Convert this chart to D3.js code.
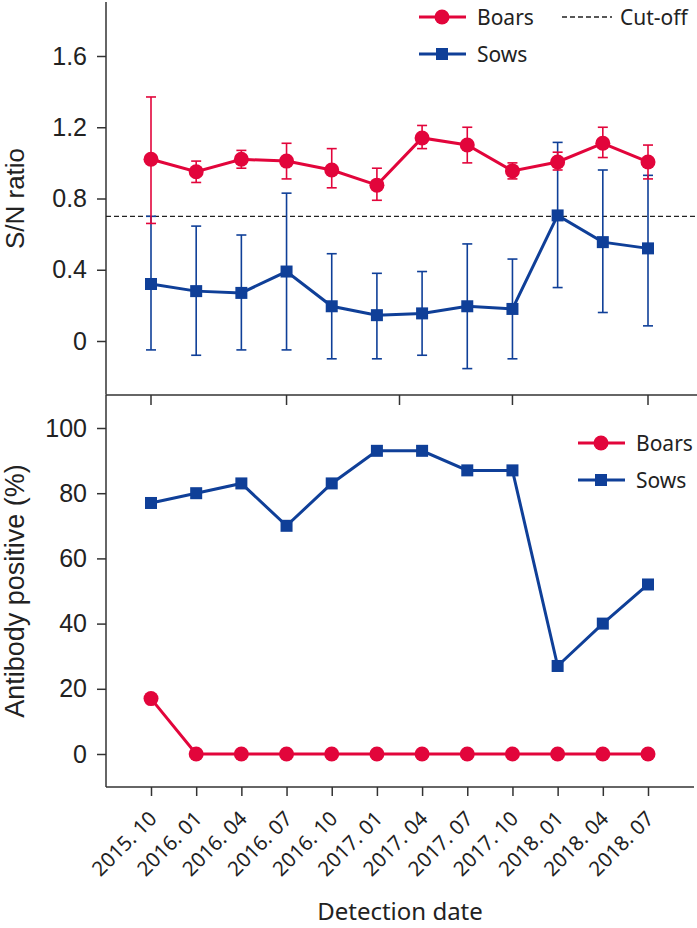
<!DOCTYPE html>
<html><head><meta charset="utf-8">
<script src="https://cdn.jsdelivr.net/npm/d3@7"></script>
<style>body{margin:0;background:#fff}svg{display:block}</style>
</head><body>
<svg id="c" width="697" height="928"></svg>
<script>
const dates = ["2015. 10","2016. 01","2016. 04","2016. 07","2016. 10","2017. 01","2017. 04","2017. 07","2017. 10","2018. 01","2018. 04","2018. 07"];
const snBoars   = [1.02,0.95,1.02,1.01,0.96,0.875,1.14,1.10,0.955,1.005,1.11,1.005];
const snBoarsHi = [1.37,1.01,1.07,1.11,1.08,0.97,1.21,1.20,1.00,1.06,1.20,1.10];
const snBoarsLo = [0.66,0.89,0.97,0.91,0.86,0.79,1.08,1.00,0.91,0.96,1.03,0.91];
const snSows    = [0.32,0.28,0.27,0.39,0.195,0.145,0.155,0.195,0.18,0.705,0.555,0.52];
const snSowsHi  = [0.70,0.645,0.595,0.83,0.49,0.38,0.39,0.545,0.46,1.115,0.96,0.93];
const snSowsLo  = [-0.05,-0.08,-0.05,-0.05,-0.10,-0.10,-0.08,-0.155,-0.10,0.30,0.16,0.085];
const cutoff = 0.7;
const abBoars = [17,0,0,0,0,0,0,0,0,0,0,0];
const abSows  = [77,80,83,70,83,93,93,87,87,27,40,52];
const snTicks = [0,0.4,0.8,1.2,1.6];
const abTicks = [0,20,40,60,80,100];
const dividerTicks = [0,3,5.5,8,11];

const RED = "#e2053b", BLUE = "#0f3f98", AX = "#333";
const svg = d3.select("#c");
const L = 106, R = 697;
const x = d3.scalePoint().domain(dates).range([151,648]);
const xi = d3.scaleLinear().domain([0,11]).range([151,648]);
const y1 = d3.scaleLinear().domain([0,1.6]).range([341,56]);
const y2 = d3.scaleLinear().domain([0,100]).range([754,428]);
const tickFont = "'Liberation Sans', Arial, sans-serif";
const txtFont = "'Noto Sans', sans-serif";

// Top panel y axis
const gA1 = svg.append("g").attr("transform",`translate(${L},0)`)
  .call(d3.axisLeft(y1).tickValues(snTicks).tickFormat(d=>d===0?"0":d3.format(".1f")(d)).tickSize(9).tickPadding(10));
gA1.select(".domain").remove();
gA1.append("line").attr("x1",0).attr("x2",0).attr("y1",2).attr("y2",y1(-0.302)).attr("stroke",AX).attr("stroke-width",1.5);
// Bottom panel y axis
const gA2 = svg.append("g").attr("transform",`translate(${L},0)`)
  .call(d3.axisLeft(y2).tickValues(abTicks).tickSize(9).tickPadding(10));
gA2.select(".domain").remove();
gA2.append("line").attr("x1",0).attr("x2",0).attr("y1",395).attr("y2",787).attr("stroke",AX).attr("stroke-width",1.5);
[gA1,gA2].forEach(g=>{
  g.selectAll(".tick line").attr("stroke",AX).attr("stroke-width",1.5);
  g.selectAll(".tick text").attr("font-family",tickFont).attr("font-size",25).attr("fill","#222");
});

// divider line + ticks
svg.append("line").attr("x1",L).attr("x2",R).attr("y1",395).attr("y2",395).attr("stroke",AX).attr("stroke-width",1.5);
svg.selectAll(".dt").data(dividerTicks).join("line")
  .attr("x1",d=>xi(d)).attr("x2",d=>xi(d)).attr("y1",395).attr("y2",405).attr("stroke",AX).attr("stroke-width",1.5);

// bottom x axis
const gX = svg.append("g").attr("transform","translate(0,787)")
  .call(d3.axisBottom(x).tickSize(9).tickFormat(""));
gX.select(".domain").remove();
gX.selectAll(".tick line").attr("stroke",AX).attr("stroke-width",1.5);
svg.append("line").attr("x1",L).attr("x2",R-3).attr("y1",787).attr("y2",787).attr("stroke",AX).attr("stroke-width",1.5);
svg.selectAll(".xl").data(dates).join("text")
  .attr("transform",d=>`translate(${x(d)+7},${820}) rotate(-45)`)
  .attr("text-anchor","end").attr("font-family",txtFont).attr("font-size",20.5).attr("fill","#222")
  .text(d=>d);

// axis titles
svg.append("text").attr("transform",`translate(24,${y1(0.8)}) rotate(-90)`).attr("text-anchor","middle")
  .attr("font-family",tickFont).attr("font-size",26).attr("fill","#222").text("S/N ratio");
svg.append("text").attr("transform",`translate(24,591) rotate(-90)`).attr("text-anchor","middle")
  .attr("font-family",tickFont).attr("font-size",27).attr("fill","#222").text("Antibody positive (%)");
svg.append("text").attr("x",400).attr("y",920).attr("text-anchor","middle")
  .attr("font-family",txtFont).attr("font-size",24).attr("fill","#222").text("Detection date");

// cutoff
svg.append("line").attr("x1",L).attr("x2",R).attr("y1",y1(cutoff)).attr("y2",y1(cutoff))
  .attr("stroke","#222").attr("stroke-width",1.3).attr("stroke-dasharray","5,3");

function errorBars(lo,hi,color){
  const g = svg.append("g").attr("stroke",color).attr("stroke-width",1.6);
  dates.forEach((d,i)=>{
    g.append("line").attr("x1",x(d)).attr("x2",x(d)).attr("y1",y1(lo[i])).attr("y2",y1(hi[i]));
    g.append("line").attr("x1",x(d)-5).attr("x2",x(d)+5).attr("y1",y1(lo[i])).attr("y2",y1(lo[i]));
    g.append("line").attr("x1",x(d)-5).attr("x2",x(d)+5).attr("y1",y1(hi[i])).attr("y2",y1(hi[i]));
  });
}
function series(vals,y,color,shape){
  const line = d3.line().x((v,i)=>x(dates[i])).y(v=>y(v));
  svg.append("path").attr("d",line(vals)).attr("fill","none").attr("stroke",color).attr("stroke-width",3);
  if(shape==="circle"){
    svg.selectAll(null).data(vals).join("circle").attr("cx",(v,i)=>x(dates[i])).attr("cy",v=>y(v)).attr("r",7.5).attr("fill",color);
  } else {
    svg.selectAll(null).data(vals).join("rect").attr("x",(v,i)=>x(dates[i])-6).attr("y",v=>y(v)-6).attr("width",12).attr("height",12).attr("fill",color);
  }
}
errorBars(snSowsLo,snSowsHi,BLUE);
series(snSows,y1,BLUE,"square");
errorBars(snBoarsLo,snBoarsHi,RED);
series(snBoars,y1,RED,"circle");

series(abSows,y2,BLUE,"square");
series(abBoars,y2,RED,"circle");

// legends
function legendItem(lx,ly,color,shape,label){
  svg.append("line").attr("x1",lx).attr("x2",lx+47).attr("y1",ly).attr("y2",ly).attr("stroke",color).attr("stroke-width",3);
  if(shape==="circle") svg.append("circle").attr("cx",lx+23).attr("cy",ly).attr("r",7.5).attr("fill",color);
  else if(shape==="square") svg.append("rect").attr("x",lx+17).attr("y",ly-6).attr("width",12).attr("height",12).attr("fill",color);
  svg.append("text").attr("x",lx+58).attr("y",ly).attr("dy","0.36em").attr("font-family",txtFont).attr("font-size",21).attr("fill","#222").text(label);
}
legendItem(419,17,RED,"circle","Boars");
legendItem(419,54,BLUE,"square","Sows");
svg.append("line").attr("x1",562).attr("x2",612).attr("y1",17).attr("y2",17).attr("stroke","#222").attr("stroke-width",1.3).attr("stroke-dasharray","5,3");
svg.append("text").attr("x",620).attr("y",17).attr("dy","0.36em").attr("font-family",txtFont).attr("font-size",21).attr("fill","#222").text("Cut-off");
legendItem(578,443,RED,"circle","Boars");
legendItem(578,480,BLUE,"square","Sows");
</script>
</body></html>
